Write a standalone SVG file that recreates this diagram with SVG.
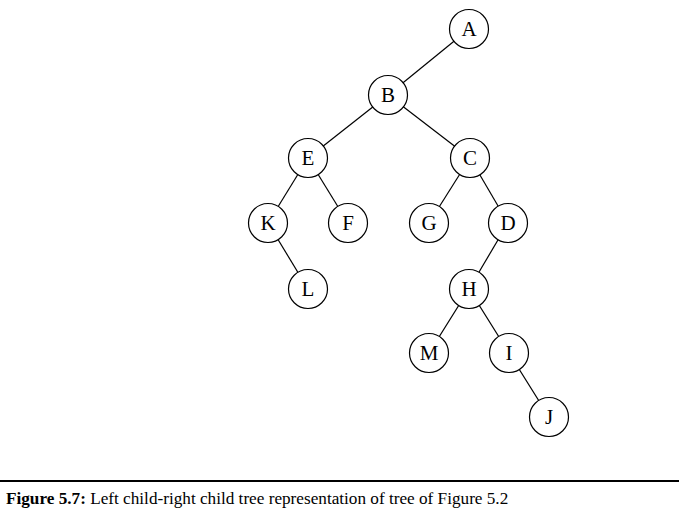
<svg xmlns="http://www.w3.org/2000/svg" width="679" height="515" viewBox="0 0 679 515">
<style>
.n circle{fill:#fff;stroke:#000;stroke-width:1.2}
.n text{font-family:"Liberation Serif",serif;font-size:21px;text-anchor:middle;fill:#000}
#edges line{stroke:#000;stroke-width:1.2}
.cap{font-family:"Liberation Serif",serif;font-size:17.2px;fill:#000}
</style>
<rect width="679" height="515" fill="#fff"/>
<g id="edges">
<line x1="469" y1="29" x2="388" y2="95"/>
<line x1="388" y1="95" x2="308" y2="158"/>
<line x1="388" y1="95" x2="470" y2="158"/>
<line x1="308" y1="158" x2="268" y2="223"/>
<line x1="308" y1="158" x2="348" y2="223"/>
<line x1="470" y1="158" x2="429" y2="223"/>
<line x1="470" y1="158" x2="508" y2="223"/>
<line x1="268" y1="223" x2="308" y2="289"/>
<line x1="508" y1="223" x2="469" y2="289"/>
<line x1="469" y1="289" x2="429" y2="353"/>
<line x1="469" y1="289" x2="509" y2="353"/>
<line x1="509" y1="353" x2="549" y2="417"/>
</g>
<g id="A" class="n"><circle cx="469" cy="29" r="19.5"/><text x="469" y="36">A</text></g>
<g id="B" class="n"><circle cx="388" cy="95" r="19.5"/><text x="388" y="102">B</text></g>
<g id="E" class="n"><circle cx="308" cy="158" r="19.5"/><text x="308" y="165">E</text></g>
<g id="C" class="n"><circle cx="470" cy="158" r="19.5"/><text x="470" y="165">C</text></g>
<g id="K" class="n"><circle cx="268" cy="223" r="19.5"/><text x="268" y="230">K</text></g>
<g id="F" class="n"><circle cx="348" cy="223" r="19.5"/><text x="348" y="230">F</text></g>
<g id="G" class="n"><circle cx="429" cy="223" r="19.5"/><text x="429" y="230">G</text></g>
<g id="D" class="n"><circle cx="508" cy="223" r="19.5"/><text x="508" y="230">D</text></g>
<g id="L" class="n"><circle cx="308" cy="289" r="19.5"/><text x="308" y="296">L</text></g>
<g id="H" class="n"><circle cx="469" cy="289" r="19.5"/><text x="469" y="296">H</text></g>
<g id="M" class="n"><circle cx="429" cy="353" r="19.5"/><text x="429" y="360">M</text></g>
<g id="I" class="n"><circle cx="509" cy="353" r="19.5"/><text x="509" y="360">I</text></g>
<g id="J" class="n"><circle cx="549" cy="417" r="19.5"/><text x="549" y="424">J</text></g>
<line x1="0" y1="481" x2="679" y2="481" stroke="#000" stroke-width="2"/>
<text class="cap" x="6" y="504"><tspan font-weight="bold">Figure 5.7:</tspan> Left child-right child tree representation of tree of Figure 5.2</text>
</svg>
